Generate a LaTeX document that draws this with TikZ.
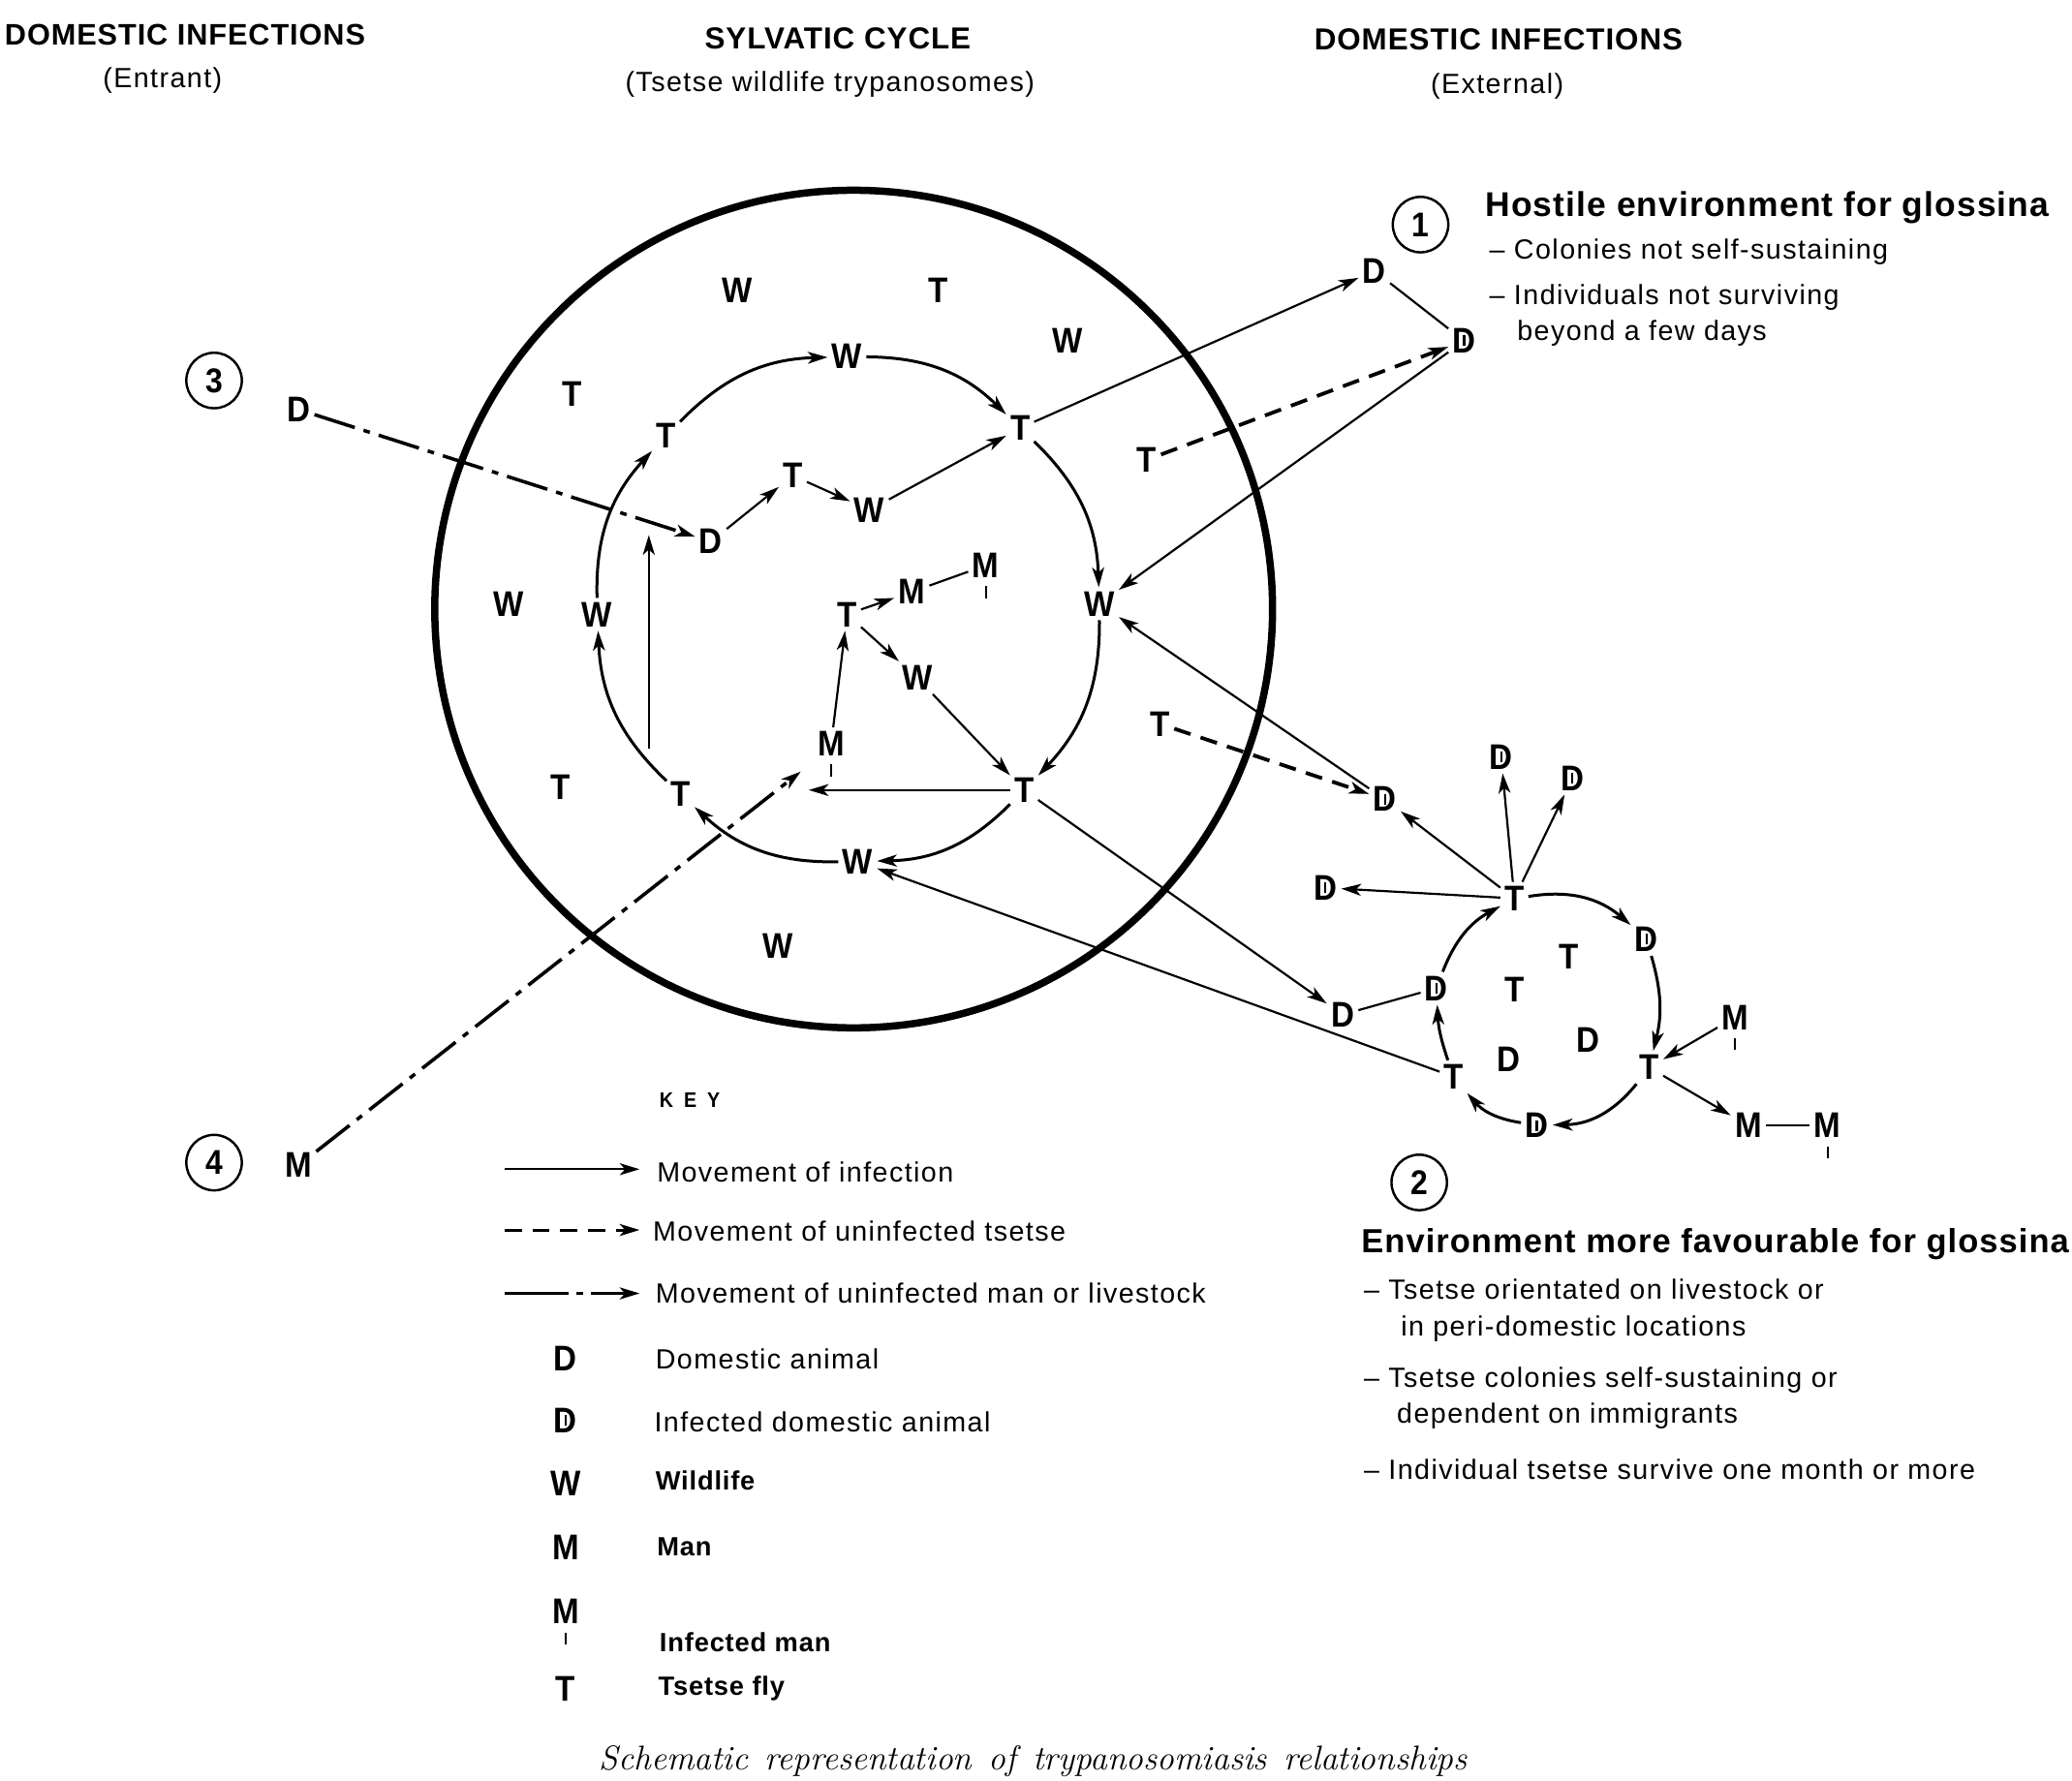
\documentclass[tikz,border=0pt]{standalone}
\usepackage{fontspec}
\newfontfamily\hv{Liberation Sans}[FakeStretch=0.9]
\newfontfamily\hvr{Liberation Sans}[LetterSpace=5]
\newfontfamily\hvb{Liberation Sans}[LetterSpace=3]
\usetikzlibrary{arrows.meta,calc}
\begin{document}
\begin{tikzpicture}[x=1pt,y=-1pt,
  lt/.style={font=\hv\bfseries\fontsize{27}{27}\selectfont, inner sep=3pt},
  infd/.style={lt, label={[inner sep=0pt]center:{\rule{1.6pt}{8pt}}}},
  infm/.style={lt, label={[inner sep=0pt,label distance=3pt]below:{\rule{1.6pt}{9pt}}}},
  circ/.style={draw, circle, line width=1.8pt, minimum size=42pt, inner sep=0pt, font=\hv\bfseries\fontsize{26}{26}\selectfont},
  arr/.style={-{Stealth[length=15pt,width=9pt,inset=4pt]}, line width=1.6pt},
  cyc/.style={arr, line width=2.2pt},
  plainln/.style={line width=1.6pt},
  dsh/.style={arr, line width=2.8pt, dash pattern=on 13pt off 8pt},
  dd/.style={arr, line width=2.6pt, dash pattern=on 32pt off 7pt on 5pt off 7pt},
  hdr/.style={font=\hvb\bfseries\fontsize{23}{23}\selectfont, inner sep=0pt},
  sub/.style={font=\hvr\fontsize{21}{21}\selectfont, inner sep=0pt},
  txt/.style={font=\hvr\fontsize{21}{21}\selectfont, inner sep=0pt, anchor=west},
  btxt/.style={font=\hvb\bfseries\fontsize{20}{20}\selectfont, inner sep=0pt, anchor=west},
  big/.style={font=\hvb\bfseries\fontsize{26}{26}\selectfont, inner sep=0pt, anchor=west}
]
\useasboundingbox (0,0) rectangle (1568,1348);
\fill[white] (0,0) rectangle (1568,1348);

% headers
\node[hdr, font=\hvb\bfseries\fontsize{22.5}{22.5}\selectfont] (h1) at (140,26) {DOMESTIC INFECTIONS};
\node[sub] (h1s) at (123,61) {(Entrant)};
\node[hdr] (h2) at (634,29) {SYLVATIC CYCLE};
\node[sub] (h2s) at (628,64) {(Tsetse wildlife trypanosomes)};
\node[hdr] (h3) at (1134,30) {DOMESTIC INFECTIONS};
\node[sub] (h3s) at (1133,65) {(External)};

% big circle
\node[draw, circle, line width=5.5pt, minimum size=634pt, inner sep=0pt] (bigc) at (646,461) {};

% sylvatic letters
\node[lt] (w1) at (558,220) {W};
\node[lt] (t1) at (710,220) {T};
\node[lt] (w2) at (808,258) {W};
\node[lt] (t2) at (433,298) {T};
\node[lt] (cW1) at (641,270) {W};
\node[lt] (cT1) at (504,330) {T};
\node[lt] (cT2) at (772,324) {T};
\node[lt] (cW2) at (832,457) {W};
\node[lt] (cT3) at (775,598) {T};
\node[lt] (cW3) at (649,652) {W};
\node[lt] (cT4) at (515,601) {T};
\node[lt] (cW4) at (452,465) {W};
\node[lt] (iT1) at (600,360) {T};
\node[lt] (iW1) at (658,386) {W};
\node[lt] (iD) at (538,410) {D};
\node[lt] (w3) at (385,457) {W};
\node[lt] (iT2) at (641,465) {T};
\node[lt] (iM1) at (690,448) {M};
\node[infm] (iM2) at (746,428) {M};
\node[lt] (iW2) at (694,513) {W};
\node[infm] (iM3) at (629,563) {M};
\node[lt] (t3) at (424,596) {T};
\node[lt] (w4) at (589,716) {W};

% cycle arcs
\draw[cyc] (cT1) to[bend left=22] (cW1);
\draw[cyc] (cW1) to[bend left=22] (cT2);
\draw[cyc] (cT2) to[bend left=22] (cW2);
\draw[cyc] (cW2) to[bend left=22] (cT3);
\draw[cyc] (cT3) to[bend left=22] (cW3);
\draw[cyc] (cW3) to[bend left=22] (cT4);
\draw[cyc] (cT4) to[bend left=22] (cW4);
\draw[cyc] (cW4) to[bend left=22] (cT1);

% inner arrows
\draw[arr] (iD) -- (iT1);
\draw[arr] (iT1) -- (iW1);
\draw[arr] (iW1) -- (cT2);
\draw[arr] (iT2) -- (iM1);
\draw[plainln] (iM1) -- (iM2);
\draw[arr] (iT2) -- (iW2);
\draw[arr] (iW2) -- (cT3);
\draw[arr] (iM3) -- (iT2);
\coordinate (mEnd) at (612,598);
\draw[arr] (cT3) -- (mEnd);
\coordinate (v1) at (491,567);
\coordinate (v2) at (491,405);
\draw[arr] (v1) -- (v2);

% entrant
\node[circ] (c3) at (162,288) {3};
\node[lt] (D3) at (226,310) {D};
\draw[dd] (D3) -- (iD);
\node[circ] (c4) at (162,880) {4};
\node[lt] (M4) at (226,882) {M};
\coordinate (m4end) at (606,584);
\draw[dd] (M4) -- (m4end);

% external top
\node[circ] (c1) at (1075,170) {1};
\node[lt] (dA) at (1040,205) {D};
\node[infd] (dB) at (1108,258) {D};
\node[lt] (tA) at (868,348) {T};
\draw[arr] (cT2) -- (dA);
\draw[plainln] (dA) -- (dB);
\draw[dsh] (tA) -- (dB);
\draw[arr] (dB) -- (cW2);

\node[big] (ht1) at (1124,157) {Hostile environment for glossina};
\node[txt] (ht2) at (1127,191) {– Colonies not self-sustaining};
\node[txt] (ht3) at (1127,225) {– Individuals not surviving};
\node[txt] (ht4) at (1148,252) {beyond a few days};

% external lower
\node[lt] (tB) at (878,548) {T};
\node[infd] (dC) at (1048,605) {D};
\draw[dsh] (tB) -- (dC);
\draw[arr] (dC) -- (cW2);
\node[lt] (dE) at (1016,768) {D};
\draw[arr] (cT3) -- (dE);

\node[lt] (hT) at (1146,680) {T};
\node[infd] (dF) at (1136,573) {D};
\node[infd] (dG) at (1190,589) {D};
\node[infd] (dH) at (1003,672) {D};
\node[infd] (kD1) at (1246,711) {D};
\node[lt] (kT2) at (1248,808) {T};
\node[infd] (kD2) at (1163,852) {D};
\node[lt] (kT3) at (1100,815) {T};
\node[infd] (kD3) at (1087,748) {D};
\node[lt] (kT4) at (1187,724) {T};
\node[lt] (kT5) at (1146,749) {T};
\node[lt] (kD4) at (1202,787) {D};
\node[lt] (kD5) at (1142,802) {D};
\node[infm] (kM1) at (1313,770) {M};
\node[lt] (kM2) at (1323,852) {M};
\node[infm] (kM3) at (1383,852) {M};

\draw[arr] (hT) -- (dC);
\draw[arr] (hT) -- (dF);
\draw[arr] (hT) -- (dG);
\draw[arr] (hT) -- (dH);
\draw[cyc] (hT) to[bend left=25] (kD1);
\draw[cyc] (kD1) to[bend left=15] (kT2);
\draw[arr] (kM1) -- (kT2);
\draw[arr] (kT2) -- (kM2);
\draw[plainln] (kM2) -- (kM3);
\draw[cyc] (kT2) to[bend left=25] (kD2);
\draw[cyc] (kD2) to[bend left=20] (kT3);
\draw[cyc] (kT3) to[bend left=8] (kD3);
\draw[plainln] (kD3) -- (dE);
\draw[cyc] (kD3) to[bend left=20] (hT);
\draw[arr] (kT3) -- (cW3);

\node[circ] (c2) at (1074,895) {2};
\node[big, font=\hvb\bfseries\fontsize{25.3}{25.3}\selectfont] (e1) at (1030,942) {Environment more favourable for glossina};
\node[txt] (e2) at (1032,976) {– Tsetse orientated on livestock or};
\node[txt] (e3) at (1060,1006) {in peri-domestic locations};
\node[txt] (e4) at (1032,1045) {– Tsetse colonies self-sustaining or};
\node[txt] (e5) at (1057,1072) {dependent on immigrants};
\node[txt] (e6) at (1032,1112) {– Individual tsetse survive one month or more};

% key
\node[font=\hv\bfseries\fontsize{16}{16}\selectfont, inner sep=0pt] (key) at (522,833) {K\hspace{8pt}E\hspace{8pt}Y};
\coordinate (k1a) at (382,885); \coordinate (k1b) at (484,885);
\draw[arr] (k1a) -- (k1b);
\node[txt] (k1) at (497,887) {Movement of infection};
\coordinate (k2a) at (382,931); \coordinate (k2b) at (484,931);
\draw[arr, line width=2.2pt, dash pattern=on 13pt off 8pt] (k2a) -- (k2b);
\node[txt] (k2) at (494,932) {Movement of uninfected tsetse};
\coordinate (k3a) at (382,979); \coordinate (k3b) at (484,979);
\draw[arr, line width=2.2pt, dash pattern=on 48pt off 6pt on 5pt off 6pt] (k3a) -- (k3b);
\node[txt] (k3) at (496,979) {Movement of uninfected man or livestock};
\node[lt] (kyD) at (428,1028) {D};
\node[txt] (k4) at (496,1029) {Domestic animal};
\node[infd] (kyDi) at (428,1075) {D};
\node[txt] (k5) at (495,1076) {Infected domestic animal};
\node[lt] (kyW) at (428,1123) {W};
\node[btxt] (k6) at (496,1121) {Wildlife};
\node[lt] (kyM) at (428,1171) {M};
\node[btxt] (k7) at (497,1171) {Man};
\node[infm] (kyMi) at (428,1220) {M};
\node[btxt] (k8) at (499,1243) {Infected man};
\node[lt] (kyT) at (428,1278) {T};
\node[btxt] (k9) at (498,1278) {Tsetse fly};

\node[font=\itshape\fontsize{26}{26}\selectfont, inner sep=0pt] (cap) at (782,1333) {\spaceskip=12.7pt\relax Schematic representation of trypanosomiasis relationships};
\end{tikzpicture}
\end{document}
